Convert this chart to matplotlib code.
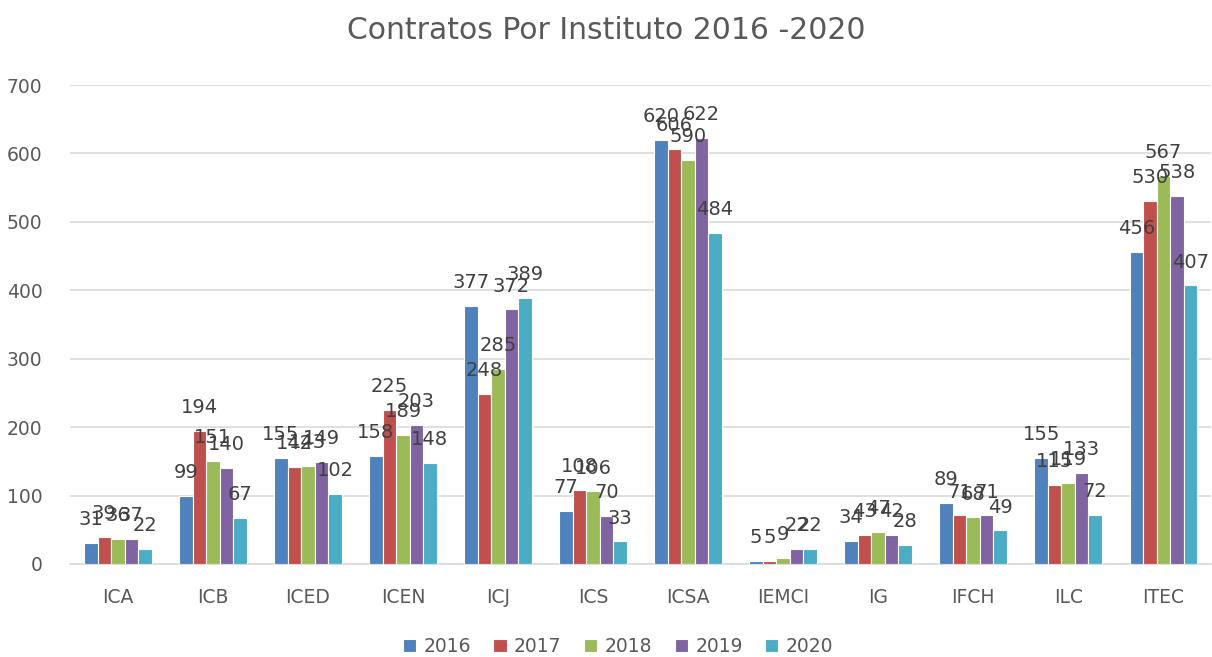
import numpy as np
import matplotlib.pyplot as plt

# Contratos por instituto, 2016-2020
institutos = ['ICA', 'ICB', 'ICED', 'ICEN', 'ICJ', 'ICS', 'ICSA', 'IEMCI', 'IG', 'IFCH', 'ILC', 'ITEC']
anos = ['2016', '2017', '2018', '2019', '2020']
v2016 = [31, 99, 155, 158, 377, 77, 620, 5, 34, 89, 155, 456]
v2017 = [39, 194, 142, 225, 248, 108, 606, 5, 43, 71, 115, 530]
v2018 = [36, 151, 143, 189, 285, 106, 590, 9, 47, 68, 119, 567]
v2019 = [37, 140, 149, 203, 372, 70, 622, 22, 42, 71, 133, 538]
v2020 = [22, 67, 102, 148, 389, 33, 484, 22, 28, 49, 72, 407]

series = [v2016, v2017, v2018, v2019, v2020]
colors = ['#4F81BD', '#C0504D', '#9BBB59', '#8064A2', '#4BACC6']

fig = plt.figure(figsize=(12.12, 6.57), dpi=100)
ax = fig.add_axes([0.058, 0.1416, 0.941, 0.729])

x = np.arange(len(institutos))
w = 0.142
for i, (vals, c, ano) in enumerate(zip(series, colors, anos)):
    pos = x + (i - 2) * w
    ax.bar(pos, vals, width=w, color=c, edgecolor='white', linewidth=0.8, label=ano, zorder=3)
    for xp, v in zip(pos, vals):
        ax.annotate(str(v), (xp, v), xytext=(0, 10), textcoords='offset points',
                    ha='center', va='bottom', fontsize=14, color='#404040', zorder=4)

ax.set_xlim(-0.5, len(institutos) - 0.5)
ax.set_ylim(0, 700)
ax.set_yticks(range(0, 701, 100))
ax.yaxis.grid(True, color='#D9D9D9', linewidth=1.2, zorder=0)
ax.set_axisbelow(True)
for s in ['top', 'right', 'left']:
    ax.spines[s].set_visible(False)
ax.spines['bottom'].set_color('#D9D9D9')
ax.spines['bottom'].set_linewidth(1.2)
ax.tick_params(axis='both', length=0, labelsize=13.5, labelcolor='#595959')
ax.tick_params(axis='x', pad=17)
ax.tick_params(axis='y', pad=20)
ax.set_xticks(x)
ax.set_xticklabels(institutos)

fig.suptitle('Contratos Por Instituto 2016 -2020', y=0.975, fontsize=21.5, color='#595959')

fig.legend(loc='lower center', bbox_to_anchor=(0.51, -0.024), ncol=5, frameon=False,
           fontsize=13.5, labelcolor='#595959', handlelength=0.7, handleheight=0.7,
           handletextpad=0.4, columnspacing=1.2)

plt.savefig('out.png', dpi=100)
